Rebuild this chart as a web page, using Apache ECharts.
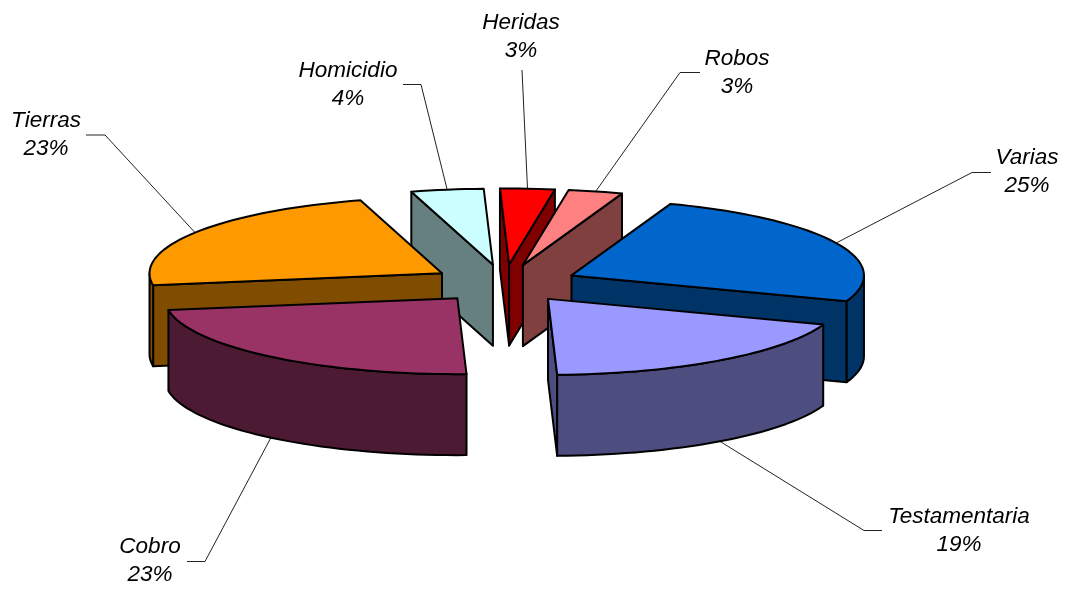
<!DOCTYPE html>
<html>
<head>
<meta charset="utf-8">
<title>Exploded pie</title>
<script src="https://cdn.jsdelivr.net/npm/echarts@6/dist/echarts.min.js"></script>
<style>
  html, body { margin: 0; padding: 0; background: #fff; }
  #chart { width: 1068px; height: 592px; }
</style>
</head>
<body>
<div id="chart"></div>
<script>
// data
var categories = ['Varias', 'Testamentaria', 'Cobro', 'Tierras', 'Homicidio', 'Heridas', 'Robos'];
var shares = [25, 19, 23, 23, 4, 3, 3];
var topColors = ['#0066CC', '#9999FF', '#993366', '#FF9900', '#CCFFFF', '#FF0000', '#FF8080'];
var sideColors = ['#003366', '#4D4D80', '#4D1A33', '#804D00', '#668080', '#800000', '#804040'];

// label centre and leader elbow/tail for each category, same order as above
var labelPos = [[1027, 172], [959, 531], [150, 561], [46, 135], [348, 85], [521, 37], [737, 73]];
var leaderBends = [
    [[972, 172.5], [991, 172.5]],
    [[864, 530.5], [882, 530.5]],
    [[205, 561.5], [187, 561.5]],
    [[105, 135], [86, 135]],
    [[421, 84.5], [403, 84.5]],
    [[522, 70]],
    [[680, 72.5], [700, 72.5]]
];

// pie layout
var centerX = 504.5, centerY = 283.5;
var radiusX = 292.5, radiusY = 76;
var explodeX = 74, explodeY = 19;
var depth = 81;
var firstAngle = 19.8;

var total = shares.reduce(function (a, b) { return a + b; }, 0);
var startAngles = [];
var running = firstAngle;
shares.forEach(function (v) {
    startAngles.push(running);
    running += v / total * 360;
});

function rad(deg) { return deg * Math.PI / 180; }

function renderSlice(params) {
    var i = params.dataIndex;
    var a = startAngles[i];
    var b = a + shares[i] / total * 360;
    var mid = (a + b) / 2;
    var apexX = centerX + explodeX * Math.sin(rad(mid));
    var apexY = centerY - explodeY * Math.cos(rad(mid));

    function rimPoint(deg, drop) {
        return [apexX + radiusX * Math.sin(rad(deg)), apexY - radiusY * Math.cos(rad(deg)) + (drop || 0)];
    }
    function arc(from, to, drop) {
        var pts = [];
        var steps = Math.max(2, Math.ceil((to - from) / 2));
        for (var s = 0; s <= steps; s++) {
            pts.push(rimPoint(from + (to - from) * s / steps, drop));
        }
        return pts;
    }
    function face(points, fill, z) {
        return {
            type: 'polygon',
            shape: { points: points },
            z2: z,
            style: { fill: fill, stroke: '#000', lineWidth: 2, lineJoin: 'round' }
        };
    }
    function cutFace(deg, z) {
        var p = rimPoint(deg);
        var q = rimPoint(deg, depth);
        return face([[apexX, apexY], p, q, [apexX, apexY + depth]], sideColors[i], z);
    }

    var base = Math.round(100 * (1 - Math.cos(rad(mid)))) * 10 + 10;
    var children = [];

    // leader line and label
    var front = Math.cos(rad(mid)) < 0;
    var leader = [rimPoint(mid, front ? depth : 0)].concat(leaderBends[i]);
    children.push({
        type: 'polyline',
        shape: { points: leader },
        z2: 1,
        style: { fill: null, stroke: '#222', lineWidth: 1 }
    });
    children.push({
        type: 'text',
        x: labelPos[i][0],
        y: labelPos[i][1],
        z2: 2,
        style: {
            text: categories[i] + '\n' + shares[i] + '%',
            font: 'italic 22.5px "Liberation Sans", Arial, sans-serif',
            fill: '#000',
            align: 'center',
            verticalAlign: 'middle',
            lineHeight: 28
        }
    });

    // only the faces turned towards the viewer
    if (Math.sin(rad(a)) < 0) children.push(cutFace(a, base));
    if (Math.sin(rad(b)) > 0) children.push(cutFace(b, base + 1));
    var rimFrom = Math.max(a, 90), rimTo = Math.min(b, 270);
    if (rimTo > rimFrom) {
        children.push(face(arc(rimFrom, rimTo, 0).concat(arc(rimFrom, rimTo, depth).reverse()), sideColors[i], base + 2));
    }
    children.push(face([[apexX, apexY]].concat(arc(a, b, 0)), topColors[i], base + 3));

    return { type: 'group', children: children };
}

var chart = echarts.init(document.getElementById('chart'));
var option = {
    backgroundColor: '#fff',
    animation: false,
    series: [
        {
            type: 'custom',
            coordinateSystem: 'none',
            renderItem: renderSlice,
            data: categories.map(function (name, i) {
                return { name: name, value: shares[i] };
            })
        }
    ]
};
chart.setOption(option);
</script>
</body>
</html>
